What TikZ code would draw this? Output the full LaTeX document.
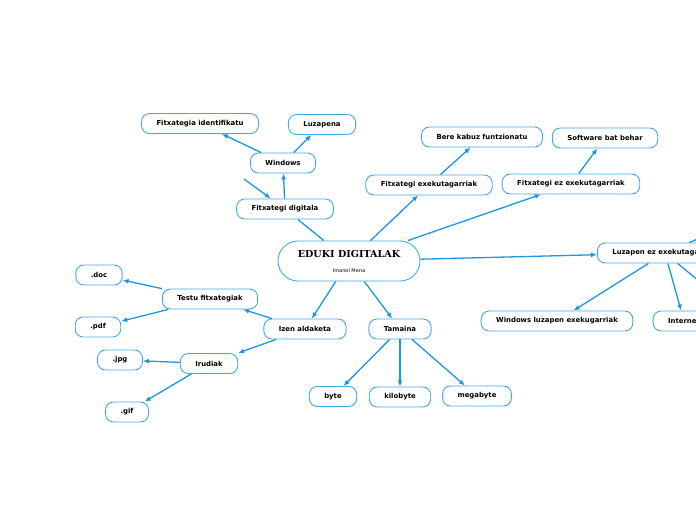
\documentclass[tikz,border=0pt]{standalone}
\usepackage{fontspec}
\setsansfont{DejaVu Sans}
\newfontfamily\titlefont{DejaVu Serif}
\usetikzlibrary{arrows.meta}
\definecolor{mapline}{RGB}{28,150,226}
\definecolor{mapedge}{RGB}{66,168,232}

\begin{document}
\begin{tikzpicture}[x=1pt,y=-1pt,
    topic/.style={draw=mapedge, fill=white, line width=0.9pt, rounded corners=8pt,
      minimum height=20pt, inner xsep=15pt, inner ysep=0pt,
      font=\sffamily\bfseries\fontsize{6.9}{8}\selectfont},
    central/.style={draw=mapedge, fill=white, line width=0.9pt, rounded corners=20pt,
      minimum width=142pt, minimum height=40pt, align=center},
    link/.style={draw=mapline, line width=1.3pt, -{Latex[length=6pt,width=5pt]}},
    plain/.style={draw=mapline, line width=1.3pt}]
    \useasboundingbox (0,0) rectangle (696,520);
    \clip (0,0) rectangle (696,520);

    % centre
    \node[central] (main) at (349,261)
      {{\titlefont\bfseries\fontsize{9.6}{11}\selectfont EDUKI DIGITALAK}\\[3pt]
       {\sffamily\fontsize{5}{6}\selectfont Imanol Mena}};

    % upper left branch
    \node[topic] (fdig) at (285,209) {Fitxategi digitala};
    \node[topic] (win) at (283,163) {Windows};
    \node[topic] (fident) at (200,123.5) {Fitxategia identifikatu};
    \node[topic] (luzapena) at (322,124.5) {Luzapena};
    \coordinate (stray) at (244,179);

    % upper right branch
    \node[topic] (fexe) at (429,185) {Fitxategi exekutagarriak};
    \node[topic] (bere) at (482,137) {Bere kabuz funtzionatu};
    \node[topic] (fezexe) at (571,184) {Fitxategi ez exekutagarriak};
    \node[topic] (software) at (605,138) {Software bat behar};

    % right branch (runs off the page)
    \node[topic] (luzez) at (665,253) {Luzapen ez exekutagarriak};
    \node[topic] (winluz) at (557,321) {Windows luzapen exekugarriak};
    \node[topic] (internet) at (684,321) {Internet};
    \coordinate (offup) at (770,208);
    \coordinate (offdown) at (740,315);

    % lower left branch
    \node[topic] (izen) at (305,329) {Izen aldaketa};
    \node[topic] (testu) at (210,299) {Testu fitxategiak};
    \node[topic] (doc) at (99,275) {.doc};
    \node[topic] (pdf) at (98,327) {.pdf};
    \node[topic] (irudiak) at (209,363.5) {Irudiak};
    \node[topic] (jpg) at (120,360) {.jpg};
    \node[topic] (gif) at (127,412) {.gif};

    % lower branch
    \node[topic] (tamaina) at (400,329) {Tamaina};
    \node[topic] (byte) at (333,396.5) {byte};
    \node[topic] (kilo) at (400,397) {kilobyte};
    \node[topic] (mega) at (477,396) {megabyte};

    \draw[plain] (main) -- (fdig);
    \draw[link] (fdig) -- (win);
    \draw[link] (win) -- (fident);
    \draw[link] (win) -- (luzapena);
    \draw[link] (stray) -- (fdig);

    \draw[link] (main) -- (fexe);
    \draw[link] (fexe) -- (bere);
    \draw[link] (main) -- (fezexe);
    \draw[link] (fezexe) -- (software);

    \draw[link] (main) -- (luzez);
    \draw[link] (luzez) -- (winluz);
    \draw[link] (luzez) -- (internet);
    \draw[plain] (luzez) -- (offup);
    \draw[plain] (luzez) -- (offdown);

    \draw[link] (main) -- (izen);
    \draw[link] (izen) -- (testu);
    \draw[link] (testu) -- (doc);
    \draw[link] (testu) -- (pdf);
    \draw[link] (izen) -- (irudiak);
    \draw[link] (irudiak) -- (jpg);
    \draw[link] (irudiak) -- (gif);

    \draw[link] (main) -- (tamaina);
    \draw[link] (tamaina) -- (byte);
    \draw[link] (tamaina) -- (kilo);
    \draw[link] (tamaina) -- (mega);
\end{tikzpicture}
\end{document}
